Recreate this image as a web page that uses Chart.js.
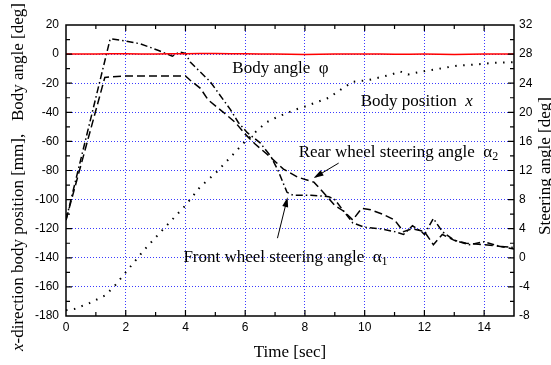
<!DOCTYPE html>
<html>
<head>
<meta charset="utf-8">
<script src="https://cdn.jsdelivr.net/npm/chart.js@4.4.0/dist/chart.umd.min.js"></script>
<style>
  html, body { margin: 0; padding: 0; background: #fff; }
  #wrap { width: 551px; height: 365px; }
</style>
</head>
<body>
<div id="wrap"><canvas id="chart" width="551" height="365"></canvas></div>
<script>
// Body angle (red, left axis) [deg]
const angleTime = [0, 1, 2, 3, 4, 5, 6, 7, 8, 9, 10, 11, 12, 13, 14, 15];
const bodyAngle = [0, 0.1, 0.2, 0.1, 0.3, 0.4, 0.2, 0, -0.2, 0, 0.1, -0.1, 0, -0.2, 0, 0];

// Body position x (dotted, left axis) [mm]
const positionTime = [0, 0.3, 0.8, 1.3, 1.6, 2.0, 2.6, 3.0, 3.5, 4.0, 4.5, 5.0, 5.5, 6.0, 6.7, 7.1, 7.7, 8.0, 8.8, 9.3, 9.6, 10.1, 10.9, 11.2, 11.45, 11.9, 12.5, 13.1, 13.8, 14.3, 15.0];
const bodyPosition = [-176, -175, -171, -166, -160, -150, -135, -126, -115, -104, -91, -82, -71, -60, -47, -43, -38, -36, -30, -23, -19, -18, -14, -12, -14, -12, -10, -8, -7, -6, -5.5];

// Front wheel steering angle a1 (dash-dot, right axis) [deg]
const frontTime = [0, 1.48, 2.0, 2.5, 3.1, 3.56, 3.8, 4.0, 4.16, 4.83, 5.5, 5.77, 6.07, 6.5, 6.85, 7.1, 7.4, 7.6, 8.2, 8.8, 9.0, 9.3, 9.6, 10.0, 10.5, 11.0, 11.3, 11.6, 11.9, 12.0, 12.3, 12.6, 13.0, 13.5, 14.0, 14.5, 15.0];
const frontAngle = [5.2, 30.1, 29.8, 29.4, 28.5, 27.7, 28.3, 28.1, 26.9, 24.2, 20.4, 18.6, 17.2, 15.8, 14.0, 12.0, 9.0, 8.6, 8.6, 8.4, 8.0, 6.4, 4.8, 4.2, 4.0, 3.6, 3.2, 4.4, 3.6, 3.2, 5.4, 3.6, 2.4, 1.8, 2.2, 1.6, 1.4];

// Rear wheel steering angle a2 (dashed, right axis) [deg]
const rearTime = [0, 1.3, 2.0, 3.0, 4.0, 4.16, 4.5, 4.76, 5.27, 5.67, 6.0, 6.34, 6.8, 7.28, 7.75, 8.3, 8.7, 9.0, 9.3, 9.6, 9.9, 10.2, 10.6, 11.0, 11.3, 11.6, 12.0, 12.3, 12.6, 13.0, 13.4, 14.0, 14.5, 15.0];
const rearAngle = [5.2, 24.8, 25, 25, 25, 24.4, 23.3, 21.7, 20.0, 18.6, 17.0, 15.6, 14.0, 12.2, 11.1, 10.4, 8.6, 7.2, 6.4, 5.2, 6.8, 6.6, 6.0, 5.2, 3.6, 4.0, 3.6, 1.8, 3.2, 2.4, 2.0, 1.8, 1.6, 1.2];

// Axis ranges
const timeRange = [0, 15];
const leftRange = [-180, 20];
const rightRange = [-8, 32];

function points(xs, ys) {
    return xs.map((x, i) => ({ x: x, y: ys[i] }));
}

const tickFont = { family: 'Liberation Sans, Arial, sans-serif', size: 12 };
const serif = 'Liberation Serif, Times New Roman, serif';
const gridBlue = '#3a3aff';

// Text labels and arrows, placed in data coordinates (time, left axis)
const notes = [
    { t: 5.57, v: -9.6, parts: [['Body angle  \u03c6', '']] },
    { t: 9.87, v: -32.3, parts: [['Body position  ', ''], ['x', 'italic']] },
    { t: 7.79, v: -67.4, parts: [['Rear wheel steering angle  \u03b1', ''], ['2', 'sub']] },
    { t: 3.93, v: -139.5, parts: [['Front wheel steering angle  \u03b1', ''], ['1', 'sub']] }
];
const arrows = [
    { from: [9.13, -74.9], to: [8.29, -85.2] },
    { from: [7.08, -126.5], to: [7.42, -98.3] }
];

function drawParts(ctx, parts, x, y, size) {
    let cx = x;
    parts.forEach(p => {
        let font = size + 'px ' + serif;
        let dy = 0;
        if (p[1] === 'italic') font = 'italic ' + font;
        if (p[1] === 'sub') { font = Math.round(size * 0.7) + 'px ' + serif; dy = 5; }
        ctx.font = font;
        ctx.fillText(p[0], cx, y + dy);
        cx += ctx.measureText(p[0]).width;
    });
    return cx - x;
}

function partsWidth(ctx, parts, size) {
    let w = 0;
    parts.forEach(p => {
        let font = size + 'px ' + serif;
        if (p[1] === 'italic') font = 'italic ' + font;
        if (p[1] === 'sub') font = Math.round(size * 0.7) + 'px ' + serif;
        ctx.font = font;
        w += ctx.measureText(p[0]).width;
    });
    return w;
}

const framePlugin = {
    id: 'frame',
    afterDraw(chart) {
        const ctx = chart.ctx;
        const a = chart.chartArea;
        const xs = chart.scales.x, ys = chart.scales.y, y2 = chart.scales.y2;
        ctx.save();

        // frame
        ctx.strokeStyle = '#000';
        ctx.lineWidth = 1.5;
        ctx.strokeRect(a.left, a.top, a.right - a.left, a.bottom - a.top);

        // inward ticks
        ctx.lineWidth = 1.2;
        ctx.beginPath();
        for (let t = timeRange[0] + 1; t < timeRange[1]; t++) {
            const px = xs.getPixelForValue(t);
            const len = t % 2 === 0 ? 6 : 4;
            ctx.moveTo(px, a.bottom); ctx.lineTo(px, a.bottom - len);
            ctx.moveTo(px, a.top); ctx.lineTo(px, a.top + len);
        }
        for (let v = leftRange[0] + 10; v < leftRange[1]; v += 10) {
            const py = ys.getPixelForValue(v);
            const len = v % 20 === 0 ? 6 : 4;
            ctx.moveTo(a.left, py); ctx.lineTo(a.left + len, py);
        }
        for (let s = rightRange[0] + 2; s < rightRange[1]; s += 2) {
            const py = y2.getPixelForValue(s);
            const len = s % 4 === 0 ? 6 : 4;
            ctx.moveTo(a.right, py); ctx.lineTo(a.right - len, py);
        }
        ctx.stroke();

        // axis titles
        ctx.fillStyle = '#000';
        ctx.textBaseline = 'middle';
        ctx.textAlign = 'left';
        const titleSize = 17;
        const xTitle = [['Time [sec]', '']];
        drawParts(ctx, xTitle, 290 - partsWidth(ctx, xTitle, titleSize) / 2, 353, titleSize);

        const leftTitle = [['x', 'italic'], ['-direction body position [mm],   Body angle [deg]', '']];
        ctx.save();
        ctx.translate(19, 177);
        ctx.rotate(-Math.PI / 2);
        drawParts(ctx, leftTitle, -partsWidth(ctx, leftTitle, titleSize) / 2, 0, titleSize);
        ctx.restore();

        const rightTitle = [['Steering angle [deg]', '']];
        ctx.save();
        ctx.translate(546, 166);
        ctx.rotate(-Math.PI / 2);
        drawParts(ctx, rightTitle, -partsWidth(ctx, rightTitle, titleSize) / 2, 0, titleSize);
        ctx.restore();

        // annotations
        notes.forEach(n => {
            drawParts(ctx, n.parts, xs.getPixelForValue(n.t), ys.getPixelForValue(n.v), titleSize);
        });

        // arrows
        ctx.lineWidth = 1;
        arrows.forEach(ar => {
            const x1 = xs.getPixelForValue(ar.from[0]), y1 = ys.getPixelForValue(ar.from[1]);
            const x2 = xs.getPixelForValue(ar.to[0]), y2p = ys.getPixelForValue(ar.to[1]);
            const ang = Math.atan2(y2p - y1, x2 - x1);
            ctx.beginPath();
            ctx.moveTo(x1, y1);
            ctx.lineTo(x2 - 6 * Math.cos(ang), y2p - 6 * Math.sin(ang));
            ctx.stroke();
            ctx.beginPath();
            ctx.moveTo(x2, y2p);
            ctx.lineTo(x2 - 10 * Math.cos(ang) + 3 * Math.sin(ang), y2p - 10 * Math.sin(ang) - 3 * Math.cos(ang));
            ctx.lineTo(x2 - 10 * Math.cos(ang) - 3 * Math.sin(ang), y2p - 10 * Math.sin(ang) + 3 * Math.cos(ang));
            ctx.closePath();
            ctx.fill();
        });

        ctx.restore();
    }
};

function gridColor(min, max) {
    return ctx => {
        const v = ctx.tick ? ctx.tick.value : null;
        return (v === min || v === max) ? 'rgba(0,0,0,0)' : gridBlue;
    };
}

new Chart(document.getElementById('chart'), {
    type: 'line',
    data: {
        datasets: [
            {
                label: 'Body angle',
                data: points(angleTime, bodyAngle),
                yAxisID: 'y',
                borderColor: '#ff0000',
                borderWidth: 1.5,
                pointRadius: 0,
                tension: 0.3
            },
            {
                label: 'Body position x',
                data: points(positionTime, bodyPosition),
                yAxisID: 'y',
                borderColor: '#000',
                borderWidth: 2,
                borderDash: [1.5, 6.5],
                pointRadius: 0
            },
            {
                label: 'Front wheel steering angle',
                data: points(frontTime, frontAngle),
                yAxisID: 'y2',
                borderColor: '#000',
                borderWidth: 1.5,
                borderDash: [7, 3, 1.5, 3],
                pointRadius: 0
            },
            {
                label: 'Rear wheel steering angle',
                data: points(rearTime, rearAngle),
                yAxisID: 'y2',
                borderColor: '#000',
                borderWidth: 1.5,
                borderDash: [8, 4],
                pointRadius: 0
            }
        ]
    },
    options: {
        responsive: false,
        animation: false,
        devicePixelRatio: 1,
        layout: { padding: { top: 25, left: 0, right: 0, bottom: 0 } },
        plugins: {
            legend: { display: false },
            tooltip: { enabled: false }
        },
        scales: {
            x: {
                type: 'linear',
                min: timeRange[0],
                max: timeRange[1],
                afterFit: s => { s.height = 49; },
                ticks: { stepSize: 2, includeBounds: false, color: '#000', font: tickFont, padding: 4, maxRotation: 0 },
                grid: { color: gridColor(timeRange[0], timeRange[1]), lineWidth: 1, drawTicks: false },
                border: { display: false, dash: [1, 2] }
            },
            y: {
                position: 'left',
                min: leftRange[0],
                max: leftRange[1],
                afterFit: s => { s.width = 66; },
                ticks: { stepSize: 20, color: '#000', font: tickFont, padding: 7 },
                grid: { color: gridColor(leftRange[0], leftRange[1]), lineWidth: 1, drawTicks: false },
                border: { display: false, dash: [1, 2] }
            },
            y2: {
                position: 'right',
                min: rightRange[0],
                max: rightRange[1],
                afterFit: s => { s.width = 37; },
                ticks: { stepSize: 4, color: '#000', font: tickFont, padding: 5 },
                grid: { drawOnChartArea: false, drawTicks: false },
                border: { display: false }
            }
        }
    },
    plugins: [framePlugin]
});
</script>
</body>
</html>
